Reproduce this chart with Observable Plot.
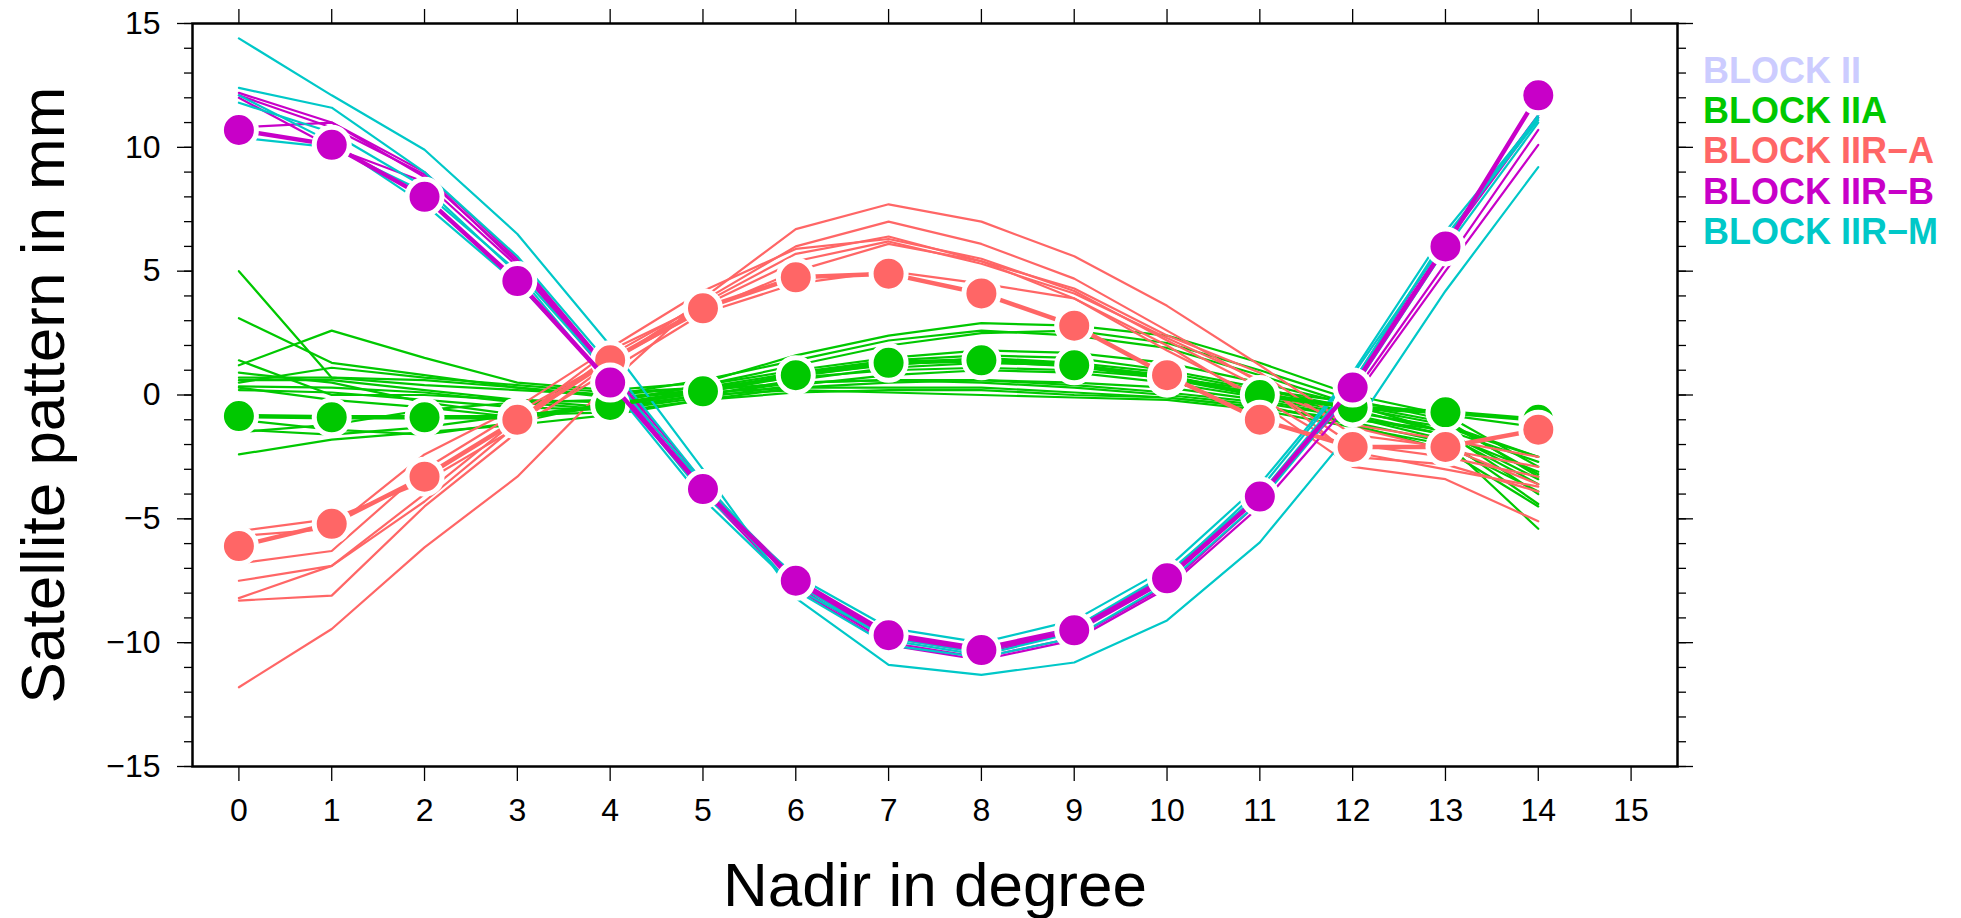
<!DOCTYPE html>
<html>
<head>
<meta charset="utf-8">
<script src="https://cdn.jsdelivr.net/npm/d3@7"></script>
<script src="https://cdn.jsdelivr.net/npm/@observablehq/plot@0.6"></script>
<style>
  html, body { margin: 0; padding: 0; background: #fff; }
  #chart svg { display: block; }
</style>
</head>
<body>
<div id="chart"></div>
<script>
// ---- data ----
const nadir = [0, 1, 2, 3, 4, 5, 6, 7, 8, 9, 10, 11, 12, 13, 14];

const blockNames = ["BLOCK II", "BLOCK IIA", "BLOCK IIR\u2212A", "BLOCK IIR\u2212B", "BLOCK IIR\u2212M"];
const blockColors = ["#ccccff", "#00c800", "#ff6666", "#c800c8", "#00c8c8"];

// individual satellites, BLOCK IIA
const iiaSatellites = [
  [5.0, 0.7, 0.4, 0.2, 0.0, 0.3, 0.9, 1.4, 1.6, 1.5, 1.0, 0.3, -0.6, -1.5, -3.4],
  [3.1, 1.3, 0.8, 0.3, -0.1, 0.2, 0.8, 1.2, 1.5, 1.3, 0.9, 0.2, -0.5, -1.2, -2.5],
  [1.2, 2.6, 1.5, 0.5, 0.2, 0.5, 1.6, 2.4, 2.9, 2.8, 2.4, 1.3, 0.0, -0.8, -2.9],
  [1.4, 0.0, 0.0, -0.2, -0.3, 0.4, 1.2, 2.0, 2.5, 2.6, 2.1, 1.0, -0.2, -1.0, -3.3],
  [0.7, 0.7, 0.6, 0.3, 0.0, 0.6, 1.4, 2.2, 2.6, 2.4, 1.9, 0.8, -0.4, -1.5, -4.0],
  [0.6, 0.6, 0.2, -0.2, -0.5, 0.0, 0.6, 1.1, 1.3, 1.2, 0.8, 0.0, -0.7, -1.3, -2.5],
  [0.5, 1.1, 0.7, 0.4, 0.1, 0.3, 0.7, 1.0, 1.1, 1.0, 0.7, 0.2, -0.3, -0.8, -1.3],
  [0.35, 0.3, 0.1, -0.3, -0.6, -0.1, 0.4, 0.8, 1.0, 0.9, 0.5, -0.1, -0.8, -1.6, -3.6],
  [0.2, 0.1, -0.2, -0.5, -0.6, 0.0, 0.5, 0.6, 0.6, 0.4, 0.1, -0.3, -0.9, -1.8, -4.4],
  [0.3, -0.2, -0.5, -0.9, -0.4, 0.1, 0.3, 0.3, 0.3, 0.1, -0.1, -0.5, -1.1, -1.9, -5.4],
  [-1.5, -1.2, -0.6, -0.3, -0.2, 0.2, 0.5, 0.6, 0.5, 0.3, 0.0, -0.4, -1.2, -2.2, -4.5],
  [-1.4, -1.6, -1.3, -0.8, -0.5, 0.0, 0.2, 0.1, 0.0, -0.1, -0.2, -0.6, -1.3, -2.0, -3.9],
  [-2.4, -1.8, -1.5, -1.2, -0.8, -0.2, 0.3, 0.5, 0.6, 0.5, 0.3, -0.2, -0.9, -1.6, -3.1],
  [0.9, 0.5, -0.3, -0.8, -0.7, -0.2, 0.1, 0.2, 0.2, 0.0, -0.1, -0.5, -1.0, -1.4, -2.7],
  [-1.0, -1.4, -1.6, -1.1, -0.3, 0.4, 1.0, 1.5, 1.8, 1.7, 1.3, 0.5, -0.4, -1.1, -3.2]
];

// individual satellites, BLOCK IIR-A
const iirASatellites = [
  [-11.8, -9.45, -6.15, -3.3, 0.5, 3.9, 6.7, 7.7, 7.0, 5.6, 3.6, 1.2, -1.3, -2.2, -2.9],
  [-8.3, -8.1, -4.5, -1.5, 1.3, 3.8, 6.0, 7.0, 6.1, 4.7, 2.6, 0.5, -2.0, -2.5, -3.3],
  [-8.2, -6.9, -4.3, -1.2, 1.6, 3.7, 5.7, 6.4, 5.4, 4.3, 2.4, 0.9, -1.6, -2.1, -3.6],
  [-7.5, -6.9, -4.0, -1.0, 1.8, 3.6, 5.4, 6.2, 5.3, 4.1, 2.3, 0.6, -2.5, -2.8, -3.9],
  [-6.8, -6.3, -3.0, -0.7, 1.4, 3.4, 5.0, 6.1, 5.4, 3.9, 2.0, -0.3, -2.9, -3.4, -5.1],
  [-5.7, -5.4, -2.4, -0.5, 1.9, 4.2, 5.9, 6.3, 5.5, 4.2, 2.2, 0.3, -1.2, -1.8, -2.5],
  [-5.5, -5.0, -3.5, -1.3, 1.0, 3.3, 4.5, 5.0, 4.5, 3.9, 1.8, -0.1, -2.3, -3.0, -3.7]
];

// individual satellites, BLOCK IIR-B
const iirBSatellites = [
  [12.2, 11.0, 9.0, 5.5, 1.0, -3.5, -7.7, -10.0, -10.6, -9.8, -7.7, -4.3, 0.5, 6.3, 11.3],
  [12.0, 10.0, 8.6, 5.2, 0.7, -3.8, -7.6, -9.8, -10.4, -9.6, -7.5, -4.1, 0.4, 6.1, 11.2],
  [10.8, 11.0, 8.8, 5.4, 0.9, -3.7, -7.4, -9.6, -10.2, -9.4, -7.3, -4.0, 0.0, 5.3, 10.7],
  [12.1, 10.8, 8.9, 5.3, 0.8, -3.9, -7.8, -10.1, -10.7, -9.9, -7.8, -4.5, -0.2, 5.0, 10.1]
];

// individual satellites, BLOCK IIR-M
const iirMSatellites = [
  [14.4, 12.1, 9.9, 6.5, 2.0, -3.0, -8.2, -10.9, -11.3, -10.8, -9.1, -5.95, -1.4, 4.2, 9.2],
  [12.4, 11.6, 9.0, 5.6, 1.2, -3.5, -7.6, -9.9, -10.5, -9.6, -7.3, -3.8, 0.8, 6.2, 11.3],
  [12.1, 10.2, 7.7, 4.5, 0.6, -4.0, -7.3, -9.4, -10.0, -9.1, -7.0, -3.6, 0.9, 6.6, 11.2],
  [10.4, 10.0, 8.2, 5.0, 0.8, -3.6, -7.9, -10.1, -10.6, -9.8, -7.6, -4.3, 0.2, 5.9, 11.0],
  [11.8, 10.6, 8.4, 4.9, 0.4, -4.2, -7.8, -9.8, -10.4, -9.4, -7.2, -4.0, 0.5, 6.4, 11.1]
];

// block patterns (large dots)
const iiaMean  = [-0.85, -0.9, -0.9, -0.9, -0.4, 0.15, 0.8, 1.3, 1.4, 1.2, 0.7, 0.0, -0.5, -0.7, -1.0];
const iirAMean = [-6.1, -5.2, -3.3, -1.0, 1.4, 3.5, 4.75, 4.9, 4.1, 2.8, 0.8, -1.0, -2.1, -2.1, -1.4];
const iirBMean = [10.7, 10.1, 8.0, 4.6, 0.5, -3.8, -7.5, -9.7, -10.3, -9.5, -7.4, -4.1, 0.3, 6.0, 12.1];

// axis ticks
const xTicks = [0, 1, 2, 3, 4, 5, 6, 7, 8, 9, 10, 11, 12, 13, 14, 15];
const yMajorTicks = [-15, -10, -5, 0, 5, 10, 15];
const yMinorTicks = d3.range(-15, 16, 1);

const xLabel = "Nadir in degree";
const yLabel = "Satellite pattern in mm";

// ---- tidy tables ----
const satRows = [];
[[iiaSatellites, blockNames[1]], [iirASatellites, blockNames[2]],
 [iirBSatellites, blockNames[3]], [iirMSatellites, blockNames[4]]].forEach(([sats, block]) => {
  sats.forEach((vals, i) => {
    vals.forEach((v, j) => satRows.push({nadir: nadir[j], value: v, block, sat: block + "-" + i}));
  });
});
const meanTable = (vals, block) => vals.map((v, j) => ({nadir: nadir[j], value: v, block}));
const meanSets = [meanTable(iiaMean, blockNames[1]), meanTable(iirAMean, blockNames[2]), meanTable(iirBMean, blockNames[3])];

const font = "'Liberation Sans', Arial, Helvetica, sans-serif";
const blank = () => "";

const marks = [
  Plot.line(satRows, {x: "nadir", y: "value", z: "sat", stroke: "block", strokeWidth: 2.2, strokeLinejoin: "miter"}),
];
meanSets.forEach(rows => {
  marks.push(Plot.line(rows, {x: "nadir", y: "value", stroke: "block", strokeWidth: 4.5}));
  marks.push(Plot.dot(rows, {x: "nadir", y: "value", r: 17.5, fill: "block", stroke: "white", strokeWidth: 5}));
});
marks.push(
  Plot.frame({stroke: "black", strokeWidth: 2.5}),
  Plot.axisX(xTicks, {anchor: "bottom", tickSize: 15, tickPadding: 17, fontSize: 32, label: null, strokeWidth: 1.3}),
  Plot.axisX(xTicks, {anchor: "top", tickSize: 15, tickFormat: blank, label: null, strokeWidth: 1.3}),
  Plot.axisY(yMajorTicks, {anchor: "left", tickSize: 15, tickPadding: 17, fontSize: 32, label: null, strokeWidth: 1.3}),
  Plot.axisY(yMinorTicks, {anchor: "left", tickSize: 8, tickFormat: blank, label: null, strokeWidth: 1.3}),
  Plot.axisY(yMajorTicks, {anchor: "right", tickSize: 15, tickFormat: blank, label: null, strokeWidth: 1.3}),
  Plot.axisY(yMinorTicks, {anchor: "right", tickSize: 8, tickFormat: blank, label: null, strokeWidth: 1.3}),
  Plot.text([yLabel], {frameAnchor: "left", rotate: -90, dx: -128.5, lineAnchor: "bottom", textAnchor: "middle", fontSize: 62, fill: "black"}),
  Plot.text([xLabel], {frameAnchor: "bottom", dy: 139.5, lineAnchor: "bottom", textAnchor: "middle", fontSize: 62, fill: "black"})
);
blockNames.forEach((name, i) => {
  marks.push(Plot.text([name], {
    frameAnchor: "top-right", textAnchor: "start", lineAnchor: "bottom",
    dx: 25.5, dy: 59.3 + 40.25 * i, fontSize: 36, fontWeight: "bold", fill: blockColors[i]
  }));
});

const chart = Plot.plot({
  width: 1961,
  height: 918,
  marginLeft: 192,
  marginRight: 284,
  marginTop: 23,
  marginBottom: 152,
  style: {fontFamily: font, background: "white", color: "black"},
  x: {domain: [-0.5, 15.5]},
  y: {domain: [-15, 15]},
  color: {domain: blockNames, range: blockColors},
  marks
});
// make sure the tick labels use the large size of the reference
chart.querySelectorAll('g[aria-label*="tick label"]').forEach(g => {
  g.setAttribute("font-size", "32");
  g.style.fontSize = "32px";
  g.querySelectorAll("text").forEach(t => { t.style.fontSize = "32px"; });
});
document.getElementById("chart").appendChild(chart);
</script>
</body>
</html>
